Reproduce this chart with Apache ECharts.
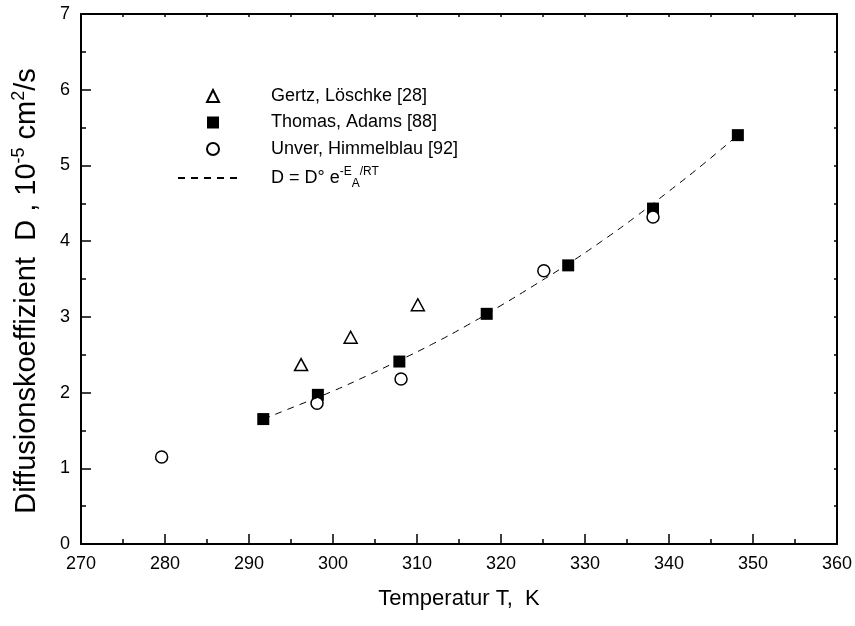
<!DOCTYPE html>
<html>
<head>
<meta charset="utf-8">
<script src="https://cdn.jsdelivr.net/npm/echarts@6/dist/echarts.min.js"></script>
<style>
  html, body { margin: 0; padding: 0; background: #fff; }
  #chart { width: 855px; height: 626px; }
</style>
</head>
<body>
<div id="chart"></div>
<script>
// Messwerte (T in K, D in 10^-5 cm2/s)
var gertzT = [296.2, 302.1, 310.1];
var gertzD = [2.37, 2.73, 3.16];
var thomasT = [291.7, 298.2, 307.9, 318.3, 328.0, 338.1, 348.2];
var thomasD = [1.65, 1.97, 2.41, 3.04, 3.68, 4.43, 5.40];
var unverT = [279.6, 298.1, 308.1, 325.1, 338.1];
var unverD = [1.15, 1.86, 2.18, 3.61, 4.32];
// gestrichelte Arrhenius-Kurve
var fitT = [291.7, 296, 300, 304, 308, 312, 316, 320, 324, 328, 332, 336, 340, 344, 348.2];
var fitD = [1.65, 1.84, 2.02, 2.22, 2.43, 2.65, 2.89, 3.15, 3.42, 3.70, 4.00, 4.32, 4.66, 5.01, 5.40];

var names = ['Gertz, Löschke [28]', 'Thomas, Adams [88]', 'Unver, Himmelblau [92]', 'D = D° e{sup|-E}{sub|A}{sup|/RT}'];

var font = "'Liberation Sans', Arial, sans-serif";

function pairs(xs, ys) {
    var out = [];
    for (var i = 0; i < xs.length; i++) {
        out.push([xs[i], ys[i]]);
    }
    return out;
}

var chart = echarts.init(document.getElementById('chart'), null, { renderer: 'canvas' });

var legendText = {
    fontFamily: font,
    fontSize: 18,
    color: '#000',
    lineHeight: 20,
    rich: {
        g1: { width: 47 },
        g2: { width: 27 },
        sup: { fontFamily: font, fontSize: 12, verticalAlign: 'top', lineHeight: 24 },
        sub: { fontFamily: font, fontSize: 12, verticalAlign: 'bottom', lineHeight: 24 }
    }
};

var baseX = {
    type: 'value', min: 270, max: 360, interval: 10,
    axisLine: { show: true, onZero: false, lineStyle: { color: '#000', width: 2 } },
    splitLine: { show: false }
};
var baseY = {
    type: 'value', min: 0, max: 7, interval: 1,
    axisLine: { show: true, onZero: false, lineStyle: { color: '#000', width: 2 } },
    splitLine: { show: false }
};

var option = {
    backgroundColor: '#fff',
    animation: false,
    grid: { left: 81, right: 18, top: 14, bottom: 82, containLabel: false },
    legend: [{
        data: names.slice(0, 3),
        orient: 'vertical',
        left: 201,
        top: 81,
        itemWidth: 12,
        itemHeight: 12,
        itemGap: 6.5,
        selectedMode: false,
        formatter: function (n) { return '{g1|}' + n; },
        textStyle: legendText
    }, {
        data: [names[3]],
        orient: 'vertical',
        left: 172,
        top: 161,
        itemWidth: 61,
        itemHeight: 14,
        selectedMode: false,
        itemStyle: { opacity: 0 },
        formatter: function (n) { return '{g2|}' + n; },
        textStyle: legendText
    }],
    xAxis: [Object.assign({}, baseX, {
        position: 'bottom',
        name: 'Temperatur T,  K',
        nameLocation: 'middle',
        nameGap: 44,
        nameTextStyle: { fontFamily: font, fontSize: 22, color: '#000' },
        axisTick: { inside: true, length: 10, lineStyle: { color: '#000', width: 1.5 } },
        minorTick: { show: true, splitNumber: 2, length: 5, lineStyle: { color: '#000', width: 1.5 } },
        axisLabel: { margin: 11, fontFamily: font, fontSize: 18, color: '#000' }
    }), Object.assign({}, baseX, {
        position: 'top',
        axisTick: { inside: true, length: 3, lineStyle: { color: '#000', width: 1.5 } },
        minorTick: { show: true, splitNumber: 2, length: 3, lineStyle: { color: '#000', width: 1.5 } },
        axisLabel: { show: false }
    })],
    yAxis: [Object.assign({}, baseY, {
        position: 'left',
        name: 'Diffusionskoeffizient  D , 10{sup|-5} cm{sup|2}/s',
        nameLocation: 'middle',
        nameGap: 37,
        nameTextStyle: {
            fontFamily: font, fontSize: 29, color: '#000',
            padding: [0, 24, 0, 0],
            rich: { sup: { fontFamily: font, fontSize: 18, verticalAlign: 'top', lineHeight: 34 } }
        },
        axisTick: { inside: true, length: 10, lineStyle: { color: '#000', width: 1.5 } },
        minorTick: { show: true, splitNumber: 2, length: 5, lineStyle: { color: '#000', width: 1.5 } },
        axisLabel: { margin: 11, fontFamily: font, fontSize: 18, color: '#000' }
    }), Object.assign({}, baseY, {
        position: 'right',
        axisTick: { inside: true, length: 3, lineStyle: { color: '#000', width: 1.5 } },
        minorTick: { show: true, splitNumber: 2, length: 3, lineStyle: { color: '#000', width: 1.5 } },
        axisLabel: { show: false }
    })],
    series: [{
        name: names[3],
        type: 'line',
        data: pairs(fitT, fitD),
        symbol: 'none',
        smooth: true,
        lineStyle: { color: '#000', width: 1, type: [7, 6] },
        itemStyle: { color: '#000' }
    }, {
        name: names[0],
        type: 'scatter',
        data: pairs(gertzT, gertzD),
        symbol: 'triangle',
        symbolSize: [13, 12],
        itemStyle: { color: '#fff', borderColor: '#000', borderWidth: 1.5, opacity: 1 }
    }, {
        name: names[1],
        type: 'scatter',
        data: pairs(thomasT, thomasD),
        symbol: 'rect',
        symbolSize: 12,
        itemStyle: { color: '#000', borderColor: '#000', borderWidth: 0, opacity: 1 }
    }, {
        name: names[2],
        type: 'scatter',
        data: pairs(unverT, unverD),
        symbol: 'circle',
        symbolSize: 12,
        itemStyle: { color: '#fff', borderColor: '#000', borderWidth: 1.5, opacity: 1 }
    }]
};

chart.setOption(option);
</script>
</body>
</html>
